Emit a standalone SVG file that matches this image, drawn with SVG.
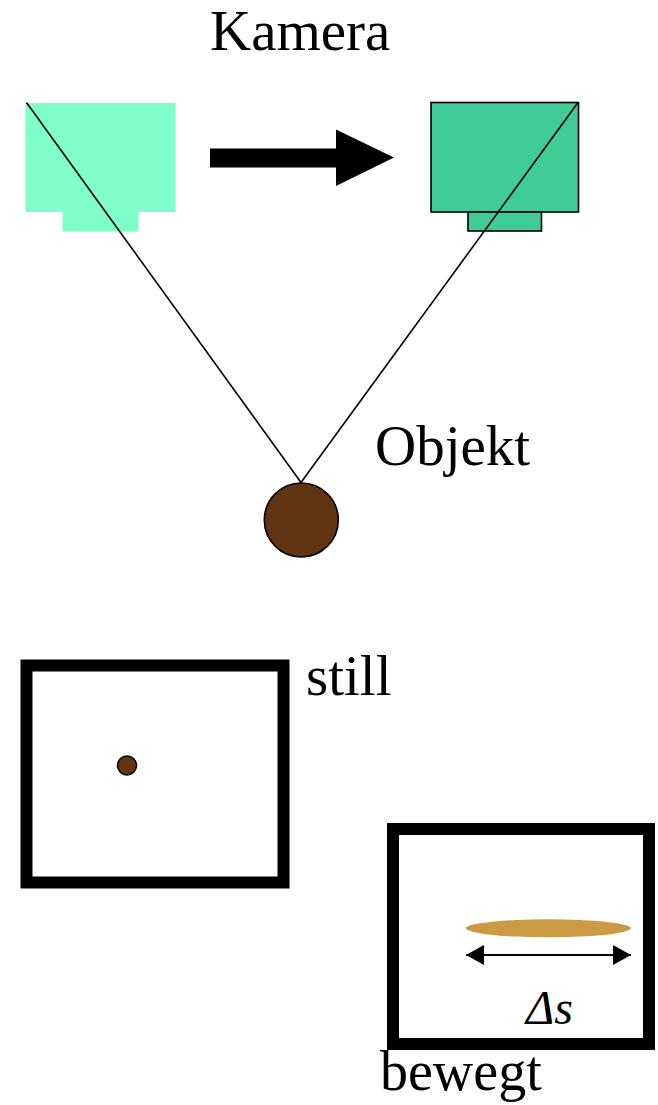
<svg xmlns="http://www.w3.org/2000/svg" width="658" height="1105" viewBox="0 0 658 1105">
<style>
.lbl{font-family:"Liberation Serif","Times New Roman",serif;font-size:57px;fill:#000}
.frame{fill:#fff;stroke:#000;stroke-width:12}
.sight{stroke:#000;stroke-width:1.6;fill:none}
</style>
<defs>
<marker id="ah" viewBox="0 0 18 20" refX="18" refY="10" markerWidth="18" markerHeight="20" markerUnits="userSpaceOnUse" orient="auto-start-reverse">
<path d="M0,0 L18,10 L0,20 Z" fill="#000"/>
</marker>
</defs>
<rect width="658" height="1105" fill="#fff"/>
<text id="lbl-kamera" class="lbl" x="210" y="50">Kamera</text>
<g id="camera-left">
<rect x="25.5" y="103" width="150" height="109" fill="#80FFCA"/>
<rect x="62.5" y="212" width="76" height="19.5" fill="#80FFCA"/>
</g>
<g id="move-arrow">
<polygon points="210,148.5 336,148.5 336,129.5 394,157.5 336,186 336,167.5 210,167.5" fill="#000"/>
</g>
<g id="camera-right">
<rect x="431" y="102.5" width="147.5" height="109.5" fill="#40CC97" stroke="#000" stroke-width="1.6"/>
<rect x="468" y="212" width="73.5" height="19" fill="#40CC97" stroke="#000" stroke-width="1.6"/>
</g>
<g id="connectors">
<line class="sight" x1="26.5" y1="102.5" x2="301" y2="482.5"/>
<line class="sight" x1="578" y1="102.5" x2="301" y2="482.5"/>
</g>
<g id="object">
<circle cx="301.3" cy="520" r="37" fill="#623412" stroke="#000" stroke-width="1.6"/>
<text class="lbl" x="375" y="465">Objekt</text>
</g>
<g id="frame-still">
<rect class="frame" x="26.5" y="665.5" width="257" height="217"/>
<circle cx="127" cy="765.5" r="9.5" fill="#623412" stroke="#000" stroke-width="1.5"/>
<text class="lbl" x="306" y="695">still</text>
</g>
<g id="frame-bewegt">
<rect class="frame" x="393" y="829" width="256" height="215"/>
<ellipse cx="548.3" cy="928.3" rx="82.3" ry="9" fill="#CC9944"/>
<line x1="466" y1="955" x2="631" y2="955" stroke="#000" stroke-width="2" marker-start="url(#ah)" marker-end="url(#ah)"/>
<text x="526" y="1024" style="font-family:'Liberation Serif','Times New Roman',serif;font-size:48px;font-style:italic">Δs</text>
<text class="lbl" x="380" y="1090" style="font-size:56px">bewegt</text>
</g>
</svg>
